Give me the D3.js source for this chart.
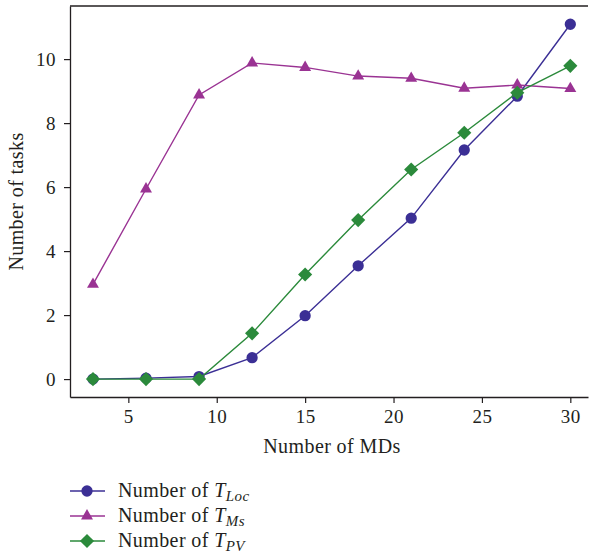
<!DOCTYPE html>
<html>
<head>
<meta charset="utf-8">
<script src="https://cdn.jsdelivr.net/npm/d3@7.9.0/dist/d3.min.js"></script>
<style>
  body { margin: 0; background: #fff; }
  text { font-family: "Liberation Serif", "DejaVu Serif", serif; fill: #231f20; }
</style>
</head>
<body>
<svg id="chart" width="590" height="557"></svg>
<script>
// data
const mds = [3, 6, 9, 12, 15, 18, 21, 24, 27, 30];
const tLoc = [0, 0.03, 0.08, 0.67, 1.98, 3.54, 5.03, 7.16, 8.84, 11.09];
const tMs = [2.96, 5.94, 8.88, 9.88, 9.74, 9.47, 9.40, 9.09, 9.19, 9.08];
const tPv = [0, 0, 0, 1.43, 3.27, 4.97, 6.55, 7.70, 8.95, 9.79];
const xTicks = [5, 10, 15, 20, 25, 30];
const yTicks = [0, 2, 4, 6, 8, 10];

// diamond = square turned 45deg
const series = [
  { sub: 'Loc', values: tLoc, color: '#3b2f95', symbol: d3.symbolCircle, size: 100, rot: 0 },
  { sub: 'Ms', values: tMs, color: '#9a3393', symbol: d3.symbolTriangle, size: 62, rot: 0 },
  { sub: 'PV', values: tPv, color: '#2b8a3b', symbol: d3.symbolSquare, size: 100, rot: 45 }
];

const svg = d3.select('#chart');
const plotLeft = 70, plotRight = 588, plotTop = 6, plotBottom = 397;

const x = d3.scaleLinear().domain([1.7, 31.0]).range([plotLeft, plotRight]);
const y = d3.scaleLinear().domain([-0.56, 11.66]).range([plotBottom, plotTop]);

// axes
const xAxis = svg.append('g')
  .attr('transform', `translate(0,${plotBottom})`)
  .call(d3.axisBottom(x).tickValues(xTicks).tickSize(6).tickPadding(7).tickSizeOuter(0));
const yAxis = svg.append('g')
  .attr('transform', `translate(${plotLeft},0)`)
  .call(d3.axisLeft(y).tickValues(yTicks).tickSize(6).tickPadding(8).tickSizeOuter(0));

[xAxis, yAxis].forEach(a => {
  a.attr('font-family', null).attr('font-size', null);
  a.select('.domain').attr('stroke', '#231f20').attr('stroke-width', 1.3);
  a.selectAll('.tick line').attr('stroke', '#231f20').attr('stroke-width', 1.2);
  a.selectAll('.tick text')
    .style('font-size', '19px')
    .style('letter-spacing', '0.5px')
    .attr('fill', '#231f20');
});

// top frame line
svg.append('line')
  .attr('x1', plotLeft).attr('x2', plotRight)
  .attr('y1', plotTop).attr('y2', plotTop)
  .attr('stroke', '#231f20').attr('stroke-width', 1.3);

// axis titles
svg.append('text')
  .attr('x', 332).attr('y', 453)
  .attr('text-anchor', 'middle')
  .style('font-size', '20px')
  .style('letter-spacing', '0.4px')
  .text('Number of MDs');

svg.append('text')
  .attr('transform', `translate(23,${(plotTop + plotBottom) / 2}) rotate(-90)`)
  .attr('text-anchor', 'middle')
  .style('font-size', '20px')
  .style('letter-spacing', '0.4px')
  .text('Number of tasks');

// lines + markers
const line = d3.line().x((d, i) => x(mds[i])).y(d => y(d));

series.forEach(s => {
  svg.append('path')
    .datum(s.values)
    .attr('d', line)
    .attr('fill', 'none')
    .attr('stroke', s.color)
    .attr('stroke-width', 1.4);

  svg.selectAll(null)
    .data(s.values)
    .enter()
    .append('path')
    .attr('transform', (d, i) => `translate(${x(mds[i])},${y(d)}) rotate(${s.rot})`)
    .attr('d', d3.symbol().type(s.symbol).size(s.size))
    .attr('fill', s.color);
});

// legend
const legend = svg.append('g');
series.forEach((s, i) => {
  const ly = 491 + i * 25;
  legend.append('line')
    .attr('x1', 70).attr('x2', 105)
    .attr('y1', ly).attr('y2', ly)
    .attr('stroke', s.color).attr('stroke-width', 1.4);
  legend.append('path')
    .attr('transform', `translate(87,${ly}) rotate(${s.rot})`)
    .attr('d', d3.symbol().type(s.symbol).size(s.size))
    .attr('fill', s.color);
  const t = legend.append('text')
    .attr('x', 118).attr('y', ly + 6)
    .style('font-size', '20px')
    .style('letter-spacing', '0.4px');
  t.append('tspan').text('Number of ');
  t.append('tspan').style('font-style', 'italic').text('T');
  t.append('tspan').style('font-style', 'italic').style('font-size', '15px')
    .attr('dy', 4).text(s.sub);
});
</script>
</body>
</html>
